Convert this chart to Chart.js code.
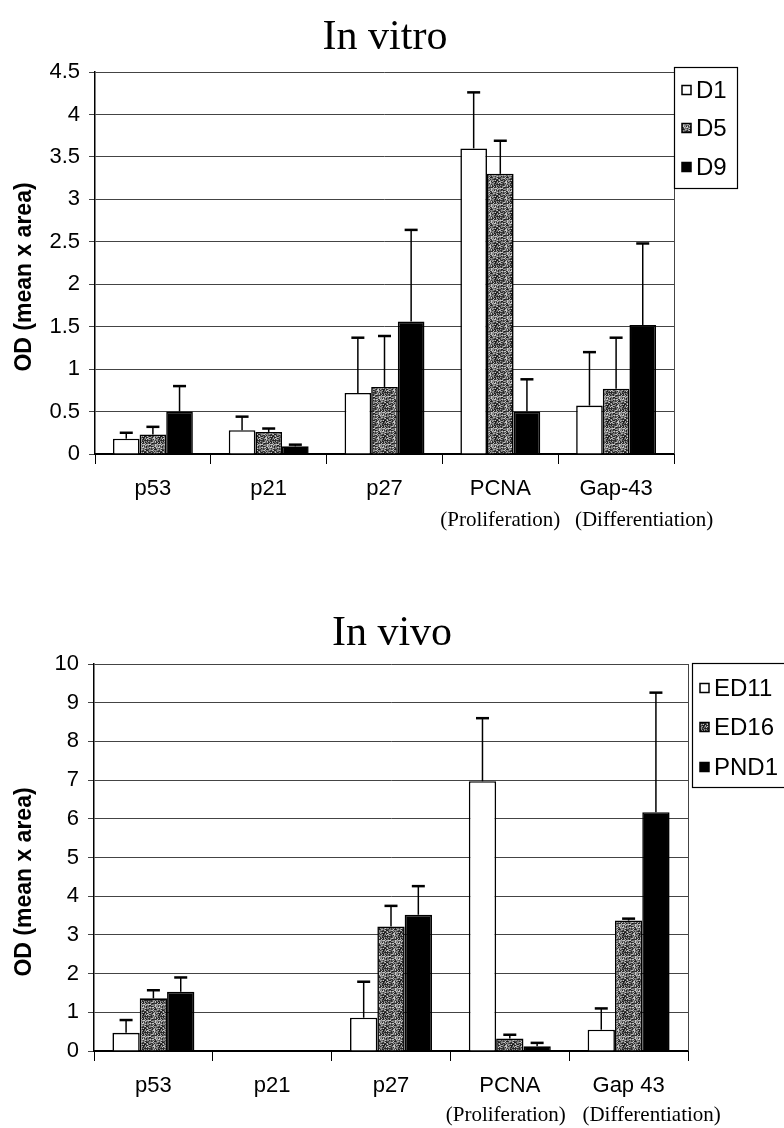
<!DOCTYPE html>
<html>
<head>
<meta charset="utf-8">
<script src="https://cdn.jsdelivr.net/npm/chart.js@4.4.1/dist/chart.umd.min.js"></script>
<style>
  html, body { margin: 0; padding: 0; background: #fff; }
  .box { position: absolute; left: 0; width: 784px; }
  #b1 { top: 0; height: 560px; }
  #b2 { top: 560px; height: 568px; }
</style>
</head>
<body>
<div class="box" id="b1"><canvas id="vitro" width="784" height="560"></canvas></div>
<div class="box" id="b2"><canvas id="vivo" width="784" height="568"></canvas></div>
<script>
// categories
const vitroLabels = ['p53', 'p21', 'p27', 'PCNA', 'Gap-43'];
const vivoLabels = ['p53', 'p21', 'p27', 'PCNA', 'Gap 43'];
const subLabels = ['', '', '', '(Proliferation)', '(Differentiation)'];

// In vitro: means and upper error (SD)
const d1 = [0.18, 0.28, 0.72, 3.6, 0.57];
const d1Err = [0.07, 0.16, 0.65, 0.66, 0.63];
const d5 = [0.23, 0.26, 0.79, 3.3, 0.77];
const d5Err = [0.09, 0.04, 0.6, 0.39, 0.6];
const d9 = [0.5, 0.09, 1.56, 0.5, 1.52];
const d9Err = [0.3, 0.02, 1.08, 0.38, 0.96];

// In vivo
const ed11 = [0.47, 0, 0.86, 6.97, 0.55];
const ed11Err = [0.33, 0, 0.93, 1.63, 0.55];
const ed16 = [1.36, 0, 3.22, 0.32, 3.37];
const ed16Err = [0.21, 0, 0.53, 0.1, 0.05];
const pnd1 = [1.53, 0, 3.52, 0.12, 6.17];
const pnd1Err = [0.37, 0, 0.74, 0.09, 3.09];

// grainy grey fill like the scanned figure (fixed speckle tile)
function grain() {
  const c = document.createElement('canvas');
  c.width = 16; c.height = 16;
  const g = c.getContext('2d');
  const shades = ['#1e1e1e', '#3a3a3a', '#555', '#707070', '#8c8c8c', '#a8a8a8', '#c8c8c8', '#2c2c2c'];
  let s = 12345;
  for (let i = 0; i < 16; i++) {
    for (let j = 0; j < 16; j++) {
      s = (s * 1103515245 + 12345) % 2147483648;
      g.fillStyle = shades[(s >> 16) % 8];
      g.fillRect(i, j, 1, 1);
    }
  }
  return g.createPattern(c, 'repeat');
}
const greyFill = grain();

const FONT = "'Liberation Sans', Arial, sans-serif";
const SERIF = "'Liberation Serif', 'Times New Roman', serif";

// error bars, drawn from the bar top using the y scale
const errorBars = {
  id: 'errorBars',
  afterDatasetsDraw(chart) {
    const ctx = chart.ctx;
    const y = chart.scales.y;
    ctx.save();
    ctx.strokeStyle = '#000';
    chart.data.datasets.forEach((ds, i) => {
      const meta = chart.getDatasetMeta(i);
      meta.data.forEach((bar, j) => {
        const e = ds.errors[j];
        if (!e) return;
        const top = y.getPixelForValue(ds.data[j] + e);
        ctx.lineWidth = 1.5;
        ctx.beginPath();
        ctx.moveTo(bar.x, bar.y);
        ctx.lineTo(bar.x, top);
        ctx.stroke();
        ctx.lineWidth = 2.5;
        ctx.beginPath();
        ctx.moveTo(bar.x - 6.5, top);
        ctx.lineTo(bar.x + 6.5, top);
        ctx.stroke();
      });
    });
    ctx.restore();
  }
};

// title, axis title, sub labels, legend box, right frame line
const decor = {
  id: 'decor',
  afterDraw(chart, args, o) {
    const ctx = chart.ctx;
    const a = chart.chartArea;
    const x = chart.scales.x;
    ctx.save();
    ctx.fillStyle = '#000';

    ctx.font = '42px ' + SERIF;
    ctx.textAlign = 'center';
    ctx.textBaseline = 'alphabetic';
    ctx.fillText(o.title, o.titleX, o.titleY);

    ctx.strokeStyle = '#444';
    ctx.lineWidth = 1;
    ctx.beginPath();
    ctx.moveTo(a.right + 0.5, a.top);
    ctx.lineTo(a.right + 0.5, a.bottom);
    ctx.stroke();

    ctx.save();
    ctx.translate(25, o.axisTitleY);
    ctx.rotate(-Math.PI / 2);
    ctx.font = 'bold 23px ' + FONT;
    ctx.textBaseline = 'middle';
    ctx.fillText('OD (mean x area)', 0, 0);
    ctx.restore();

    ctx.font = '21px ' + SERIF;
    ctx.textBaseline = 'middle';
    subLabels.forEach((s, i) => {
      if (s) ctx.fillText(s, x.getPixelForValue(i) + o.subShift[i], o.subY);
    });

    const L = o.legend;
    ctx.fillStyle = '#fff';
    ctx.fillRect(L.x, L.y, L.w, L.h);
    ctx.strokeStyle = '#000';
    ctx.lineWidth = 1.2;
    ctx.strokeRect(L.x + 0.5, L.y + 0.5, L.w, L.h);
    ctx.font = '24px ' + FONT;
    ctx.textAlign = 'left';
    chart.data.datasets.forEach((ds, i) => {
      const cy = L.rows[i];
      ctx.fillStyle = ds.backgroundColor;
      ctx.fillRect(L.mx, cy - 4.5, 9, 9);
      ctx.lineWidth = 1.5;
      ctx.strokeRect(L.mx, cy - 4.5, 9, 9);
      ctx.fillStyle = '#000';
      ctx.fillText(ds.label, L.tx, cy + 1);
    });
    ctx.restore();
  }
};

function makeChart(id, labels, sets, yMax, step, box) {
  return new Chart(document.getElementById(id), {
    type: 'bar',
    data: {
      labels: labels,
      datasets: sets.map(s => ({
        label: s[0],
        data: s[1],
        errors: s[2],
        backgroundColor: s[3],
        borderColor: '#000',
        borderWidth: 1.6,
        barPercentage: 1,
        categoryPercentage: 0.69
      }))
    },
    options: {
      responsive: false,
      animation: false,
      layout: { padding: { left: 0, top: box.top, right: 784 - box.right, bottom: 0 } },
      plugins: {
        legend: { display: false },
        title: { display: false },
        tooltip: { enabled: false },
        decor: box.decor
      },
      scales: {
        x: {
          afterFit(s) { s.height = box.xh; },
          grid: { drawOnChartArea: false, offset: true, tickLength: 10, color: '#000', lineWidth: 1 },
          border: { color: '#000', width: 2 },
          ticks: { color: '#000', font: { family: FONT, size: 22 }, padding: 12 }
        },
        y: {
          min: 0,
          max: yMax,
          afterFit(s) { s.width = box.left; },
          grid: { color: '#444', lineWidth: 1, tickLength: 6 },
          border: { color: '#000', width: 1.5 },
          ticks: {
            stepSize: step, color: '#000', font: { family: FONT, size: 22 }, padding: 9,
            callback: v => String(Math.round(v * 10) / 10)
          }
        }
      }
    },
    plugins: [errorBars, decor]
  });
}

makeChart('vitro', vitroLabels, [
  ['D1', d1, d1Err, '#fff'],
  ['D5', d5, d5Err, greyFill],
  ['D9', d9, d9Err, '#000']
], 4.5, 0.5, {
  top: 72, right: 674, left: 95, xh: 106,
  decor: {
    title: 'In vitro', titleX: 385, titleY: 49, axisTitleY: 277, subY: 520,
    subShift: [0, 0, 0, 0, 28],
    legend: { x: 674, y: 67, w: 63, h: 121, rows: [90, 128, 167], mx: 682, tx: 696 }
  }
});

makeChart('vivo', vivoLabels, [
  ['ED11', ed11, ed11Err, '#fff'],
  ['ED16', ed16, ed16Err, greyFill],
  ['PND1', pnd1, pnd1Err, '#000']
], 10, 1, {
  top: 104, right: 688, left: 94, xh: 77,
  decor: {
    title: 'In vivo', titleX: 392, titleY: 85, axisTitleY: 322, subY: 555,
    subShift: [0, 0, 0, -4, 23],
    legend: { x: 692, y: 103, w: 100, h: 124, rows: [128, 167, 207], mx: 700, tx: 714 }
  }
});
</script>
</body>
</html>
